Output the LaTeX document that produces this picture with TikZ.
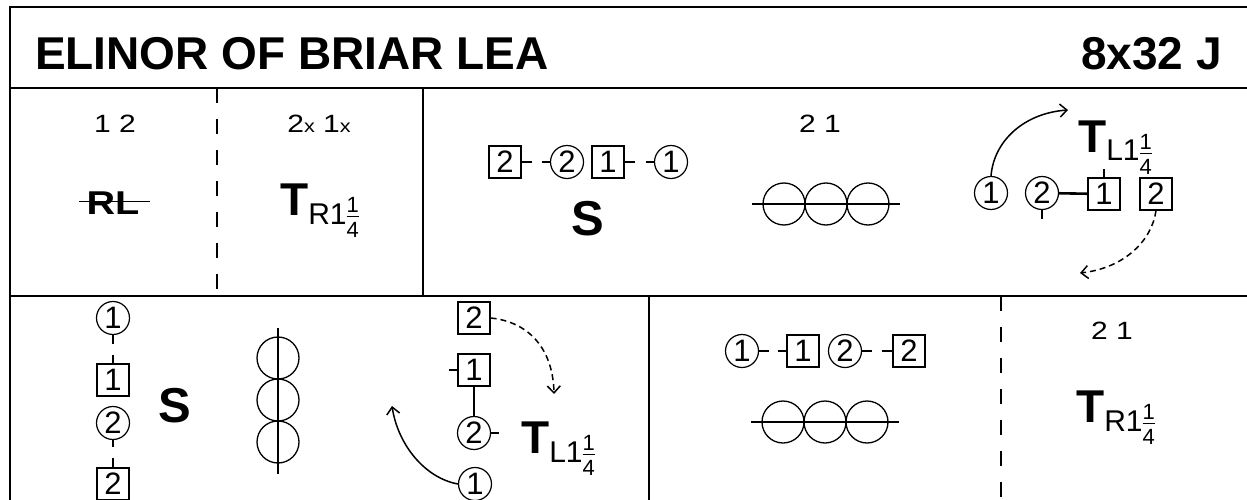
\documentclass[tikz,border=0pt]{standalone}
\usepackage{graphicx}
\usepackage{fontspec}
\setmainfont{Liberation Sans}
\usetikzlibrary{arrows.meta,calc}
\newcommand\qf{\raise-13pt\vbox{\fontsize{22}{22}\selectfont\hbox to 12pt{\hss 1\hss}\kern3pt\hrule height 1pt depth 0pt\kern5pt\hbox to 12pt{\hss 4\hss}}}
\newcommand\tsym[1]{{\fontsize{46}{46}\selectfont\bfseries T}\raise-9pt\hbox{\fontsize{30}{30}\selectfont #11\qf}}
\newcommand\wide[1]{\scalebox{1.2}[1]{#1}}
\tikzset{
  frame/.style={line width=2pt},
  divider/.style={line width=2pt, dash pattern=on 15pt off 16pt},
  woman/.style={circle, draw, line width=1.2pt, minimum size=33pt, inner sep=0pt, font=\fontsize{31}{31}\selectfont},
  man/.style={rectangle, draw, line width=1.2pt, minimum size=32pt, inner sep=0pt, font=\fontsize{31}{31}\selectfont},
  tick/.style={line width=1.2pt},
  hold/.style={line width=2.6pt},
  movearrow/.style={line width=1.5pt, -{Straight Barb[length=7pt,width=13pt]}},
  movedash/.style={movearrow, dash pattern=on 6pt off 4pt},
  formation/.style={circle, draw, line width=1.3pt, minimum size=42pt, inner sep=0pt},
  numtext/.style={font=\fontsize{25}{25}\selectfont, inner sep=0pt, anchor=base},
  bigfig/.style={font=\fontsize{49}{49}\selectfont\bfseries, inner sep=0pt},
  tfig/.style={anchor=base west, inner sep=0pt},
}
\begin{document}
\begin{tikzpicture}[x=1pt,y=-1pt]
\useasboundingbox (0,0) rectangle (1247,500);
\clip (0,0) rectangle (1247,500);
\fill[white] (0,0) rectangle (1247,500);
% frame
\draw[frame] (10,520) -- (10,7) -- (1260,7);
\draw[frame] (10,88) -- (1260,88);
\draw[frame] (10,296) -- (1260,296);
\draw[divider] (217,88) -- (217,296);
\draw[frame] (423,88) -- (423,296);
\draw[frame] (649,296) -- (649,520);
\draw[divider] (1001,296) -- (1001,520);
% title
\node[anchor=base west, inner sep=0pt, font=\fontsize{46}{50}\selectfont\bfseries] (title) at (35,70) {ELINOR OF BRIAR LEA};
\node[anchor=base east, inner sep=0pt, font=\fontsize{46}{50}\selectfont\bfseries] (form) at (1222,70) {8x32 J};
% row 1 cell 1
\node[numtext] (n1) at (115,132) {\wide{1 2}};
\node[inner sep=0pt, anchor=base, font=\fontsize{33}{33}\selectfont\bfseries] (rl) at (113,214) {\scalebox{1.2}[1]{RL}};
\draw[line width=1.5pt] ($(rl.west)+(-7,-1)$) -- ($(rl.east)+(10,-1)$);
% row 1 cell 2
\node[numtext] (n2) at (319,132) {\wide{2{\fontsize{18}{18}\selectfont x} 1{\fontsize{18}{18}\selectfont x}}};
\node[tfig] (t1) at (280,215) {\tsym{R}};
% row 1 cell 3
\node[man] (a1) at (505,162) {2};
\node[woman] (a2) at (567,162) {2};
\node[man] (a3) at (608,162) {1};
\node[woman] (a4) at (671,162) {1};
\draw[tick] (a1.east) -- ++(10,0);
\draw[tick] (a2.west) -- ++(-8,0);
\draw[tick] (a3.east) -- ++(10,0);
\draw[tick] (a4.west) -- ++(-8,0);
\node[bigfig] (s1) at (588,219) {S};
\node[numtext] (n3) at (820,132) {\wide{2 1}};
\node[formation] (c1) at (784,204) {};
\node[formation] (c2) at (826,204) {};
\node[formation] (c3) at (868,204) {};
\draw[tick] ($(c1.west)+(-10,0)$) -- ($(c3.east)+(10,0)$);
\node[woman] (b1) at (991,193) {1};
\node[woman] (b2) at (1042,193) {2};
\node[man] (b3) at (1104,194) {1};
\node[man] (b4) at (1156,194) {2};
\draw[tick] (b2.south) -- ++(0,9);
\draw[tick] (b3.north) -- ++(0,-8);
\draw[hold] (b2) -- (b3);
\coordinate (b1t) at (1068,110);
\draw[movearrow] (b1.north) .. controls (994,140) and (1025,113) .. (b1t);
\coordinate (b4t) at (1080,273);
\draw[movedash] (b4.south) .. controls (1152,240) and (1125,268) .. (b4t);
\node[tfig] (t2) at (1078,152) {\tsym{L}};
% row 2 cell 1
\node[woman] (d1) at (113,318) {1};
\node[man] (d2) at (113,380) {1};
\node[woman] (d3) at (113,423) {2};
\node[man] (d4) at (113,484) {2};
\draw[tick] (d1.south) -- ++(0,9);
\draw[tick] (d2.north) -- ++(0,-8);
\draw[tick] (d3.south) -- ++(0,7);
\draw[tick] (d4.north) -- ++(0,-9);
\node[bigfig] (s2) at (175,406) {S};
\node[formation] (e1) at (278,358) {};
\node[formation] (e2) at (278,400) {};
\node[formation] (e3) at (278,442) {};
\draw[tick] ($(e1.north)+(0,-8)$) -- ($(e3.south)+(0,10)$);
\node[man] (g1) at (474,318) {2};
\node[man] (g2) at (474,370) {1};
\node[woman] (g3) at (474,433) {2};
\node[woman] (g4) at (475,484) {1};
\draw[tick] (g2.west) -- ++(-8,0);
\draw[tick] (g3.east) -- ++(8,0);
\draw[hold] (g2) -- (g3);
\coordinate (g1t) at (554,394);
\draw[movedash] (g1.east) .. controls (530,322) and (553,350) .. (g1t);
\coordinate (g4t) at (392,406);
\draw[movearrow] (g4.west) .. controls (425,478) and (398,445) .. (g4t);
\node[tfig] (t3) at (521,453) {\tsym{L}};
% row 2 cell 2
\node[woman] (h1) at (742,351) {1};
\node[man] (h2) at (803,351) {1};
\node[woman] (h3) at (845,351) {2};
\node[man] (h4) at (909,351) {2};
\draw[tick] (h1.east) -- ++(10,0);
\draw[tick] (h2.west) -- ++(-8,0);
\draw[tick] (h3.east) -- ++(10,0);
\draw[tick] (h4.west) -- ++(-10,0);
\node[formation] (k1) at (783,422) {};
\node[formation] (k2) at (825,422) {};
\node[formation] (k3) at (867,422) {};
\draw[tick] ($(k1.west)+(-10,0)$) -- ($(k3.east)+(10,0)$);
% row 2 cell 3
\node[numtext] (n4) at (1112,339) {\wide{2 1}};
\node[tfig] (t4) at (1076,422) {\tsym{R}};
\end{tikzpicture}
\end{document}
